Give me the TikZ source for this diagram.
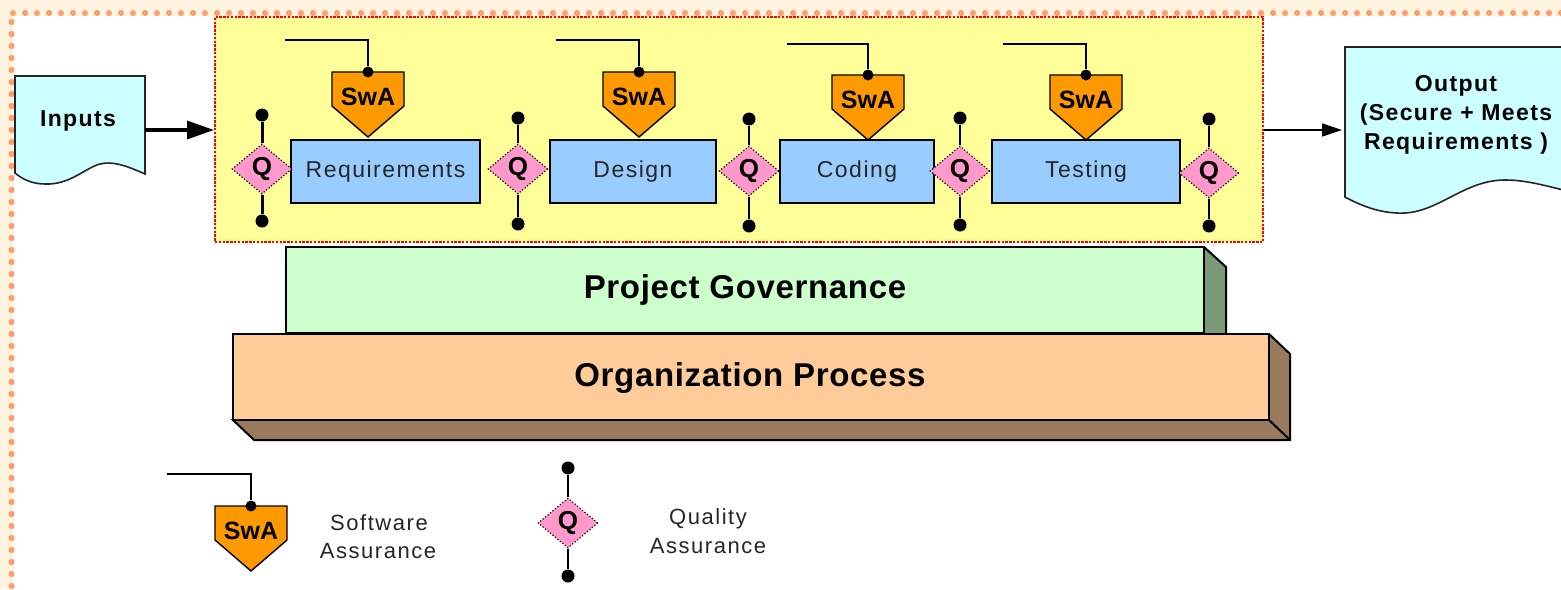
\documentclass[tikz,border=0pt]{standalone}
\usepackage{fontspec}
\setmainfont{Liberation Sans}
\usetikzlibrary{shapes.geometric,arrows.meta,calc}
\definecolor{cream}{HTML}{FDF3DF}
\definecolor{dotc}{HTML}{FF9E6E}
\definecolor{yel}{HTML}{FFFF99}
\definecolor{docc}{HTML}{CCFFFF}
\definecolor{stepc}{HTML}{99CCFF}
\definecolor{swac}{HTML}{FF9900}
\definecolor{qc}{HTML}{FF99CC}
\definecolor{govc}{HTML}{CCFFCC}
\definecolor{govs}{HTML}{7A9A7A}
\definecolor{orgc}{HTML}{FFCC99}
\definecolor{orgs}{HTML}{997A5C}
\newcommand\ltsp[1]{\addfontfeature{LetterSpace=#1}}
\tikzset{
  stepbox/.style={draw=black,line width=1pt,fill=stepc,minimum width=#1*0.5pt,minimum height=31.5pt,inner sep=0pt,font=\fontsize{11.5}{14}\selectfont\ltsp{6.5},text=black!85},
  qnode/.style={diamond,aspect=1.2,draw=black,fill=qc,densely dotted,line width=.6pt,minimum width=30pt,minimum height=25pt,inner sep=0pt,font=\bfseries\fontsize{13}{15}\selectfont},
  dotnode/.style={circle,fill=black,minimum size=6.5pt,inner sep=0pt},
  smalldot/.style={circle,fill=black,minimum size=5.5pt,inner sep=0pt},
  stem/.style={draw=black,line width=1pt},
  lead/.style={draw=black,line width=.8pt},
  doc/.style={draw=black!85,line width=.8pt,fill=docc},
  txt/.style={inner sep=0pt,font=\fontsize{11}{14}\selectfont\ltsp{7},text=black!85},
  hdr/.style={inner sep=0pt,font=\bfseries\fontsize{16.5}{20}\selectfont\ltsp{2}},
  boldt/.style={inner sep=0pt,align=center,font=\bfseries\fontsize{11.5}{14.5}\selectfont\ltsp{6}},
  swat/.style={inner sep=0pt,font=\bfseries\fontsize{12.5}{14}\selectfont},
  swashape/.style={draw=black,line width=.7pt,fill=swac},
  block/.style={draw=black,line width=1pt},
}
% #1 name, #2 centre x, #3 top y, #4 lead start x, #5 lead y
\newcommand\swablock[5]{%
  \draw[swashape] (#2-36,#3) -- (#2+36,#3) -- (#2+36,#3+34) -- (#2,#3+65) -- (#2-36,#3+34) -- cycle;
  \node[swat] (#1) at (#2,#3+25) {SwA};
  \coordinate (#1top) at (#2,#3);
  \coordinate (#1start) at (#4,#5);
  \node[smalldot] (#1dot) at (#1top) {};
  \draw[lead] (#1start) -| (#1dot);
}
% #1 name, #2 x, #3 y, #4 top dot y, #5 bottom dot y
\newcommand\qblock[5]{%
  \node[dotnode] (#1t) at (#2,#4) {};
  \node[dotnode] (#1b) at (#2,#5) {};
  \node[qnode] (#1) at (#2,#3) {Q};
  \draw[stem] (#1t) -- (#1.north);
  \draw[stem] (#1.south) -- (#1b);
}
\begin{document}
\begin{tikzpicture}[x=0.5pt,y=-0.5pt]
\path[use as bounding box] (0,0) rectangle (1561,589);
% page
\fill[cream] (0,0) rectangle (1561,589);
\fill[white] (14,16) rectangle (1561,589);
\foreach \i in {0,...,129} \fill[dotc] (13+12*\i,13) circle (1.55pt);
\foreach \i in {1,...,48} \fill[dotc] (11.5,10+12*\i) circle (1.55pt);
% yellow panel
\node[draw=red,dash pattern=on 1.2pt off .7pt,line width=1pt,fill=yel,minimum width=524pt,minimum height=112.5pt,inner sep=0pt] (panel) at (739,129.5) {};
% documents
\draw[doc] (15,76) -- (145,76) -- (145,174) .. controls (125,165) and (112,161) .. (100,164) .. controls (85,168) and (70,185) .. (45,184) .. controls (32,184) and (22,179) .. (15,173) -- cycle;
\node[boldt] (inputs) at (78,121) {Inputs};
\coordinate (inE) at (145,130);
\draw[doc] (1622,47) -- (1345,47) -- (1345,197) .. controls (1365,208) and (1385,214) .. (1405,213) .. controls (1440,211) and (1465,180) .. (1505,180) .. controls (1530,180) and (1550,187) .. (1622,205);
\node[boldt] (output) at (1456,115) {Output\\(Secure + Meets\\Requirements )};
\coordinate (outW) at (1345,130);
\draw[line width=1.6pt,-{Triangle[length=13.5pt,width=9pt]}] (inE) -- (inE-|panel.west);
\draw[line width=.7pt,shorten >=1.5pt,-{Triangle[length=10pt,width=6.5pt]}] (panel.east|-outW) -- (outW);
% process steps
\node[stepbox=189] (req) at (385.5,171.5) {Requirements};
\node[stepbox=166] (des) at (633,171.5) {Design};
\node[stepbox=154] (cod) at (857,171.5) {Coding};
\node[stepbox=188] (tes) at (1086,171.5) {Testing};
% Q gates
\qblock{q1}{262}{169}{115}{221}
\draw[stem,line width=1.5pt] (q1t) -- (q1.north) (q1.south) -- (q1b);
\qblock{q2}{518}{169}{118}{224}
\qblock{q3}{749}{171}{119}{226}
\qblock{q4}{960}{171}{118}{225}
\qblock{q5}{1209}{173}{119}{226}
% SwA gates
\swablock{s1}{368}{72}{285}{40}
\swablock{s2}{639}{72}{556}{40}
\swablock{s3}{868}{75}{787}{44}
\swablock{s4}{1086}{75}{1003}{44}
% governance block
\fill[govs] (1204,247) -- (1226,267) -- (1226,334) -- (1204,334) -- cycle;
\draw[block] (1204,247) -- (1226,267) -- (1226,334);
\node[draw=black,line width=1pt,fill=govc,minimum width=459pt,minimum height=43pt,inner sep=0pt] (gov) at (745,290) {};
\node[hdr] (govt) at (745,290) {Project Governance};
% organisation block
\draw[block,fill=orgs] (233,420) -- (254,440) -- (1290,440) -- (1290,354) -- (1269,334) -- cycle;
\node[draw=black,line width=1pt,fill=orgc,minimum width=518pt,minimum height=43pt,inner sep=0pt] (org) at (751,377) {};
\node[hdr] (orgt) at (750,378) {Organization Process};
\draw[block] (1269,420) -- (1290,440);
% legend
\swablock{ls}{251}{506}{167}{474}
\qblock{lq}{568}{523}{468}{576}
\node[txt] (l1) at (379,523) {Software};
\node[txt] (l2) at (378,551) {Assurance};
\node[txt] (l3) at (708,519) {Quality};
\node[txt] (l4) at (708,546) {Assurance};
\end{tikzpicture}
\end{document}
